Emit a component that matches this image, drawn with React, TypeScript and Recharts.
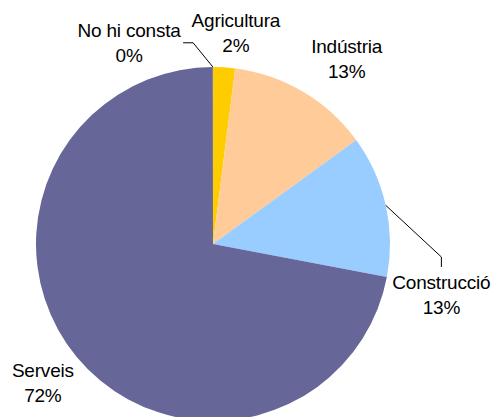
import React from 'react';
import { PieChart, Pie, Cell } from 'recharts';

const sectors = ['Agricultura', 'Indústria', 'Construcció', 'Serveis', 'No hi consta'];
const shares = [2, 13, 13, 72, 0.02];
const colors = ['#FFCC00', '#FFCC99', '#99CCFF', '#666699', '#666699'];

// where each label sits: distance from centre and a shift of the slice's mid angle (deg, clockwise)
const labelLayout = [
  { r: 212, shift: 2.6, leader: null },
  { r: 228, shift: 5.3, leader: null },
  { r: 234, shift: 25.2, leader: { elbow: [0, -38], end: [0, -28] } },
  { r: 220, shift: 0.3, leader: null },
  { r: 218, shift: -22.6, leader: { elbow: [64, 0], end: [54, 0] } },
];

const data = sectors.map((name, i) => ({ name, value: shares[i] }));
const RAD = Math.PI / 180;

const renderLabel = (props: any) => {
  const { cx, cy, midAngle, outerRadius, index, percent, name } = props;
  const lay = labelLayout[index];
  const compass = 90 - midAngle + lay.shift;
  const x = cx + lay.r * Math.sin(compass * RAD);
  const y = cy - lay.r * Math.cos(compass * RAD);
  const ex = cx + outerRadius * Math.cos(-midAngle * RAD);
  const ey = cy + outerRadius * Math.sin(-midAngle * RAD);
  const textProps = {
    x,
    textAnchor: 'middle' as const,
    dominantBaseline: 'central' as const,
    fontFamily: "'Liberation Sans', Arial, sans-serif",
    fontSize: 19,
    letterSpacing: -0.2,
    fill: '#000',
  };
  return (
    <g key={`lbl-${index}`}>
      {lay.leader && (
        <polyline
          points={`${ex},${ey} ${x + lay.leader.elbow[0]},${y + lay.leader.elbow[1]} ${x + lay.leader.end[0]},${y + lay.leader.end[1]}`}
          fill="none"
          stroke="#000"
          strokeWidth={1}
        />
      )}
      <text {...textProps} y={y - 12.5}>
        {name}
      </text>
      <text {...textProps} y={y + 12.5}>
        {`${Math.round(percent * 100)}%`}
      </text>
    </g>
  );
};

export default function App() {
  return (
    <div style={{ width: 495, height: 417, background: '#fff' }}>
      <style>{'body{margin:0}'}</style>
      <PieChart width={495} height={417} margin={{ top: 0, right: 0, bottom: 0, left: 0 }}>
        <Pie
          data={data}
          dataKey="value"
          nameKey="name"
          cx={213}
          cy={244}
          outerRadius={177}
          startAngle={90}
          endAngle={-270}
          stroke="none"
          label={renderLabel}
          labelLine={false}
          isAnimationActive={false}
        >
          {data.map((d, i) => (
            <Cell key={d.name} fill={colors[i]} />
          ))}
        </Pie>
      </PieChart>
    </div>
  );
}
